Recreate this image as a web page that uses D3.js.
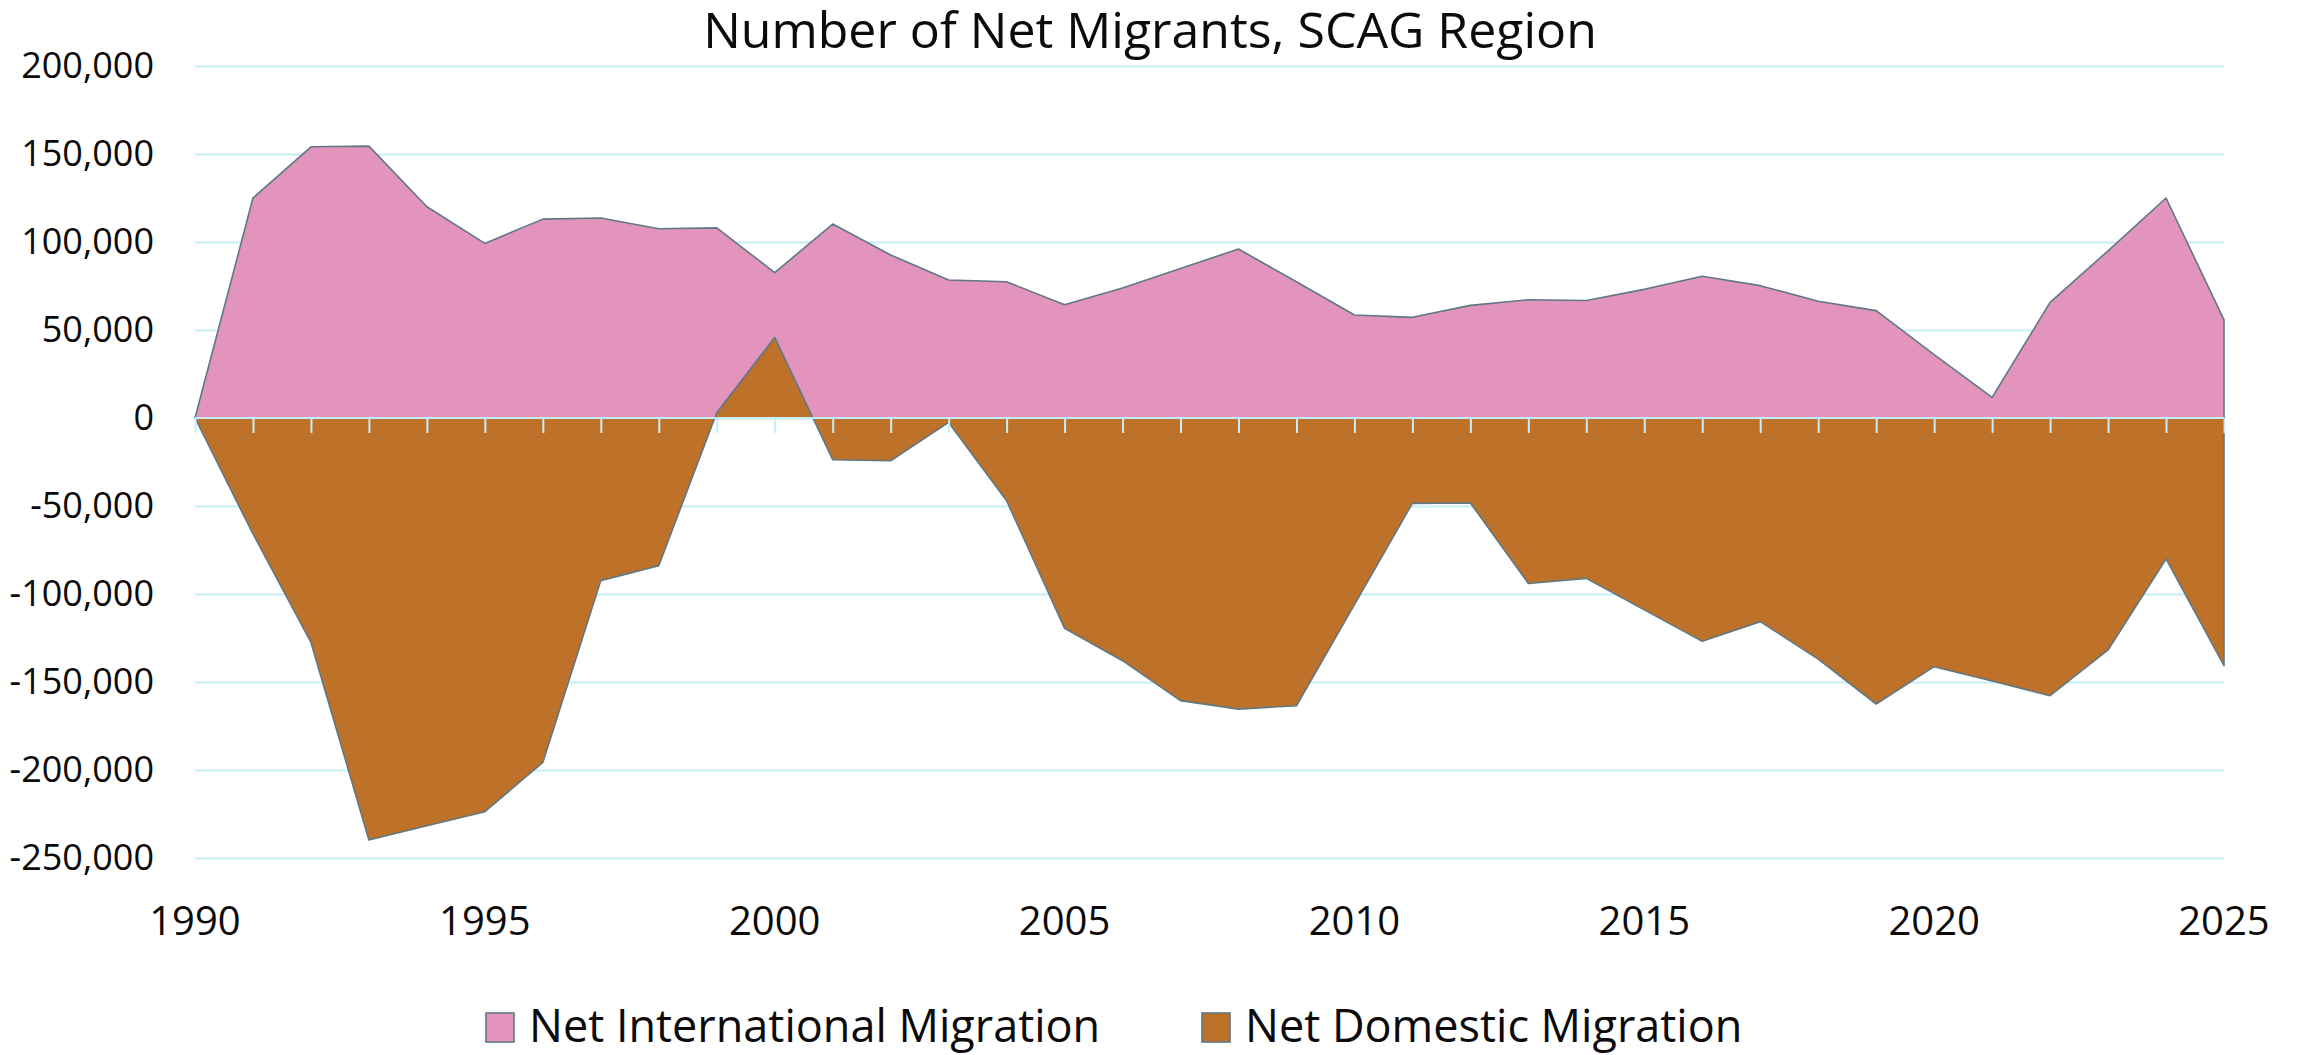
<!DOCTYPE html>
<html>
<head>
<meta charset="utf-8">
<script src="https://cdn.jsdelivr.net/npm/d3@7"></script>
<style>
    body { margin: 0; background: #ffffff; }
    svg { display: block; font-family: "Open Sans", "Noto Sans", sans-serif; }
    .axis path { display: none; }
</style>
</head>
<body>
<svg id="chart" width="2300" height="1055"></svg>
<script>
var years = [1990, 1991, 1992, 1993, 1994, 1995, 1996, 1997, 1998, 1999,
    2000, 2001, 2002, 2003, 2004, 2005, 2006, 2007, 2008, 2009,
    2010, 2011, 2012, 2013, 2014, 2015, 2016, 2017, 2018, 2019,
    2020, 2021, 2022, 2023, 2024, 2025];

var international = [0, 125000, 154100, 154500, 120000, 99200, 113000, 113600, 107500, 108000,
    82600, 110200, 92600, 78400, 77400, 64400, 73900, 85000, 96000, 77400,
    58500, 57200, 64000, 67200, 66800, 73100, 80500, 75200, 66300, 61000,
    36000, 11700, 65700, 95000, 125000, 55700];

var domestic = [0, -65900, -127500, -239800, -231700, -223700, -195700, -92400, -83900, 3000,
    45800, -23700, -24300, -2500, -47000, -119500, -137900, -160600, -165400, -163500,
    -106000, -48500, -48300, -94000, -91100, -109000, -126900, -115700, -137000, -162500,
    -141300, -149400, -157800, -131800, -80100, -140700];

var yTicks = [-250000, -200000, -150000, -100000, -50000, 0, 50000, 100000, 150000, 200000];
var yTickLabels = ["-250,000", "-200,000", "-150,000", "-100,000", "-50,000", "0",
    "50,000", "100,000", "150,000", "200,000"];
var xLabelYears = [1990, 1995, 2000, 2005, 2010, 2015, 2020, 2025];

var seriesNames = ["Net International Migration", "Net Domestic Migration"];
var seriesColors = ["#e294bd", "#be7129"];

var textColor = "#0d0a0b";
var gridColor = "#c6eefa";
var edgeColor = "#5f7886";

var svg = d3.select("#chart");

var plotLeft = 195, plotRight = 2224, plotTop = 66, plotBottom = 858;

var x = d3.scaleLinear().domain([1990, 2025]).range([plotLeft, plotRight]);
var y = d3.scaleLinear().domain([-250000, 200000]).range([plotBottom, plotTop]);

svg.append("rect")
    .attr("width", 2300)
    .attr("height", 1055)
    .attr("fill", "#ffffff");

// title
svg.append("text")
    .attr("x", 1150)
    .attr("y", 48)
    .attr("text-anchor", "middle")
    .attr("fill", textColor)
    .style("font-size", "50px")
    .text("Number of Net Migrants, SCAG Region");

// horizontal gridlines
svg.append("g")
    .attr("class", "axis grid")
    .attr("transform", "translate(" + plotLeft + ",0)")
    .call(d3.axisLeft(y).tickValues(yTicks).tickSize(-(plotRight - plotLeft)).tickFormat(""))
    .selectAll("line")
    .attr("stroke", gridColor)
    .attr("stroke-width", 2);

// y labels
svg.append("g")
    .attr("class", "axis y-axis")
    .attr("transform", "translate(" + (plotLeft - 41) + ",0)")
    .call(d3.axisLeft(y).tickValues(yTicks).tickSize(0).tickPadding(0)
        .tickFormat(function (d, i) {
            return yTickLabels[i];
        }))
    .call(function (g) {
        g.selectAll("text")
            .attr("fill", textColor)
            .style("font-family", "'Open Sans', sans-serif")
            .style("font-size", "36px");
    });

function seriesRows(values) {
    return years.map(function (yr, i) {
        return { year: yr, value: values[i] };
    });
}

var area = d3.area()
    .x(function (d) { return x(d.year); })
    .y0(y(0))
    .y1(function (d) { return y(d.value); });

// pink first, brown drawn over it
[international, domestic].forEach(function (values, i) {
    svg.append("path")
        .datum(seriesRows(values))
        .attr("d", area)
        .attr("fill", seriesColors[i])
        .attr("stroke", edgeColor)
        .attr("stroke-width", 1.6)
        .attr("stroke-linejoin", "round");
});

// zero axis line with year ticks
var xAxis = svg.append("g")
    .attr("class", "axis x-axis")
    .attr("transform", "translate(0," + y(0) + ")")
    .call(d3.axisBottom(x).tickValues(years).tickSize(15).tickFormat(""));

xAxis.selectAll("line")
    .attr("stroke", gridColor)
    .attr("stroke-width", 2);

svg.append("line")
    .attr("x1", plotLeft)
    .attr("x2", plotRight)
    .attr("y1", y(0))
    .attr("y2", y(0))
    .attr("stroke", gridColor)
    .attr("stroke-width", 2);

// x labels below the plot
svg.append("g")
    .selectAll("text")
    .data(xLabelYears)
    .enter().append("text")
    .attr("x", function (d) { return x(d); })
    .attr("y", 935)
    .attr("text-anchor", "middle")
    .attr("fill", textColor)
    .style("font-size", "40px")
    .text(function (d) { return d; });

// legend
var legendX = [486, 1202];
var legend = svg.append("g")
    .selectAll("g")
    .data(seriesNames)
    .enter().append("g")
    .attr("transform", function (d, i) {
        return "translate(" + legendX[i] + ",1013)";
    });

legend.append("rect")
    .attr("width", 28)
    .attr("height", 29)
    .attr("fill", function (d, i) { return seriesColors[i]; })
    .attr("stroke", edgeColor)
    .attr("stroke-width", 1.6);

legend.append("text")
    .attr("x", 43)
    .attr("y", 29)
    .attr("fill", textColor)
    .style("font-size", "45px")
    .text(function (d) { return d; });
</script>
</body>
</html>
